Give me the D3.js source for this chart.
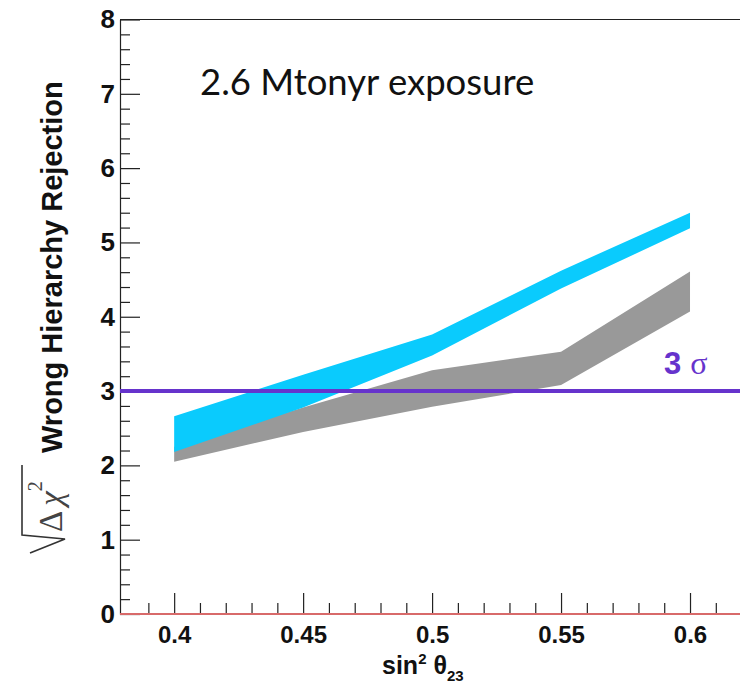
<!DOCTYPE html>
<html>
<head>
<meta charset="utf-8">
<script src="https://cdn.jsdelivr.net/npm/d3@7"></script>
<style>
  body { margin: 0; background: #fff; }
  svg { display: block; }
</style>
</head>
<body>
<svg id="chart" width="740" height="685"></svg>
<script>
// sin^2(theta_23) sample points and the sqrt(delta chi^2) band edges
const sin2Theta23 = [0.40, 0.45, 0.50, 0.55, 0.60];
const cyanLow  = [2.18, 2.78, 3.48, 4.38, 5.19];
const cyanHigh = [2.66, 3.22, 3.76, 4.62, 5.40];
const grayLow  = [2.05, 2.45, 2.79, 3.08, 4.07];
const grayHigh = [2.25, 2.78, 3.28, 3.53, 4.61];

const xMajorTicks = [0.40, 0.45, 0.50, 0.55, 0.60];
const xTickLabels = ["0.4", "0.45", "0.5", "0.55", "0.6"];
const xMinorTicks = [0.39, 0.41, 0.42, 0.43, 0.44, 0.46, 0.47, 0.48, 0.49, 0.51,
                     0.52, 0.53, 0.54, 0.56, 0.57, 0.58, 0.59, 0.61];
const yMajorTicks = [0, 1, 2, 3, 4, 5, 6, 7, 8];
const yMinorTicks = d3.range(1, 40).filter(k => k % 5 !== 0).map(k => k / 5);

const sigmaLevel = 3;
const titleText = "2.6 Mtonyr exposure";

const svg = d3.select("#chart");

const frameLeft = 120, frameRight = 740, frameBottom = 614, frameTop = 19.5;
const x = d3.scaleLinear().domain([0.379, 0.62]).range([frameLeft, 741.6]);
const y = d3.scaleLinear().domain([0, 8]).range([frameBottom, frameTop]);

// bands
function band(lo, hi) {
  return d3.area()
    .x((d, i) => x(sin2Theta23[i]))
    .y0((d, i) => y(lo[i]))
    .y1((d, i) => y(hi[i]))(sin2Theta23);
}
svg.append("path").attr("d", band(grayLow, grayHigh)).attr("fill", "#999999");
svg.append("path").attr("d", band(cyanLow, cyanHigh)).attr("fill", "#0acbfd");

// y axis: major and minor ticks pointing into the frame
const yAxisG = svg.append("g").attr("transform", `translate(${frameLeft},0)`);
yAxisG.call(d3.axisLeft(y).tickValues(yMajorTicks).tickSize(-20).tickSizeOuter(0)
  .tickPadding(5).tickFormat(d3.format("d")));
yAxisG.append("g").call(d3.axisLeft(y).tickValues(yMinorTicks).tickSize(-10)
  .tickSizeOuter(0).tickFormat(""))
  .select(".domain").remove();
yAxisG.selectAll("text")
  .attr("font-family", "Liberation Sans, Arial, sans-serif")
  .attr("font-weight", "bold").attr("font-size", 26).attr("fill", "#111");
yAxisG.selectAll("line, path").attr("stroke", "#222").attr("stroke-width", 1.2);

// x axis
const xAxisG = svg.append("g").attr("transform", `translate(0,${frameBottom})`);
xAxisG.call(d3.axisBottom(x).tickValues(xMajorTicks).tickSize(-21).tickSizeOuter(0)
  .tickPadding(12).tickFormat((d, i) => xTickLabels[i]));
xAxisG.append("g").call(d3.axisBottom(x).tickValues(xMinorTicks).tickSize(-11)
  .tickSizeOuter(0).tickFormat(""))
  .select(".domain").remove();
xAxisG.selectAll("text")
  .attr("font-family", "Liberation Sans, Arial, sans-serif")
  .attr("font-weight", "bold").attr("font-size", 24).attr("fill", "#111");
xAxisG.selectAll("line, path").attr("stroke", "#222").attr("stroke-width", 1.2);

// top frame line
svg.append("line").attr("x1", frameLeft).attr("x2", frameRight)
  .attr("y1", frameTop).attr("y2", frameTop)
  .attr("stroke", "#222").attr("stroke-width", 1.2);

// zero line along the bottom
svg.append("line").attr("x1", frameLeft).attr("x2", frameRight)
  .attr("y1", y(0)).attr("y2", y(0))
  .attr("stroke", "#d86a6a").attr("stroke-width", 2);

// 3 sigma line and label
svg.append("line").attr("x1", frameLeft).attr("x2", frameRight)
  .attr("y1", y(sigmaLevel)).attr("y2", y(sigmaLevel))
  .attr("stroke", "#6633cc").attr("stroke-width", 4);
const sig = svg.append("text").attr("x", 664).attr("y", 374).attr("fill", "#6633cc");
sig.append("tspan").attr("font-family", "Liberation Sans, Arial, sans-serif")
  .attr("font-weight", "bold").attr("font-size", 31).text(String(sigmaLevel));
sig.append("tspan").attr("dx", 9).attr("font-family", "Liberation Serif, serif")
  .attr("font-size", 32).text("σ");

// title
svg.append("text").attr("x", 200).attr("y", 95)
  .attr("font-family", "Lato, 'Open Sans', sans-serif").attr("font-size", 36.5)
  .attr("fill", "#111").text(titleText);

// x axis title: sin² θ₂₃
const xt = svg.append("text").attr("x", 382).attr("y", 674)
  .attr("font-family", "Liberation Sans, Arial, sans-serif").attr("font-weight", "bold")
  .attr("font-size", 25).attr("fill", "#111");
xt.append("tspan").text("sin");
xt.append("tspan").attr("font-size", 15).attr("dy", -10).text("2");
xt.append("tspan").attr("dx", 7).attr("dy", 10).text("θ");
xt.append("tspan").attr("font-size", 15).attr("dy", 7).text("23");

// y axis title: √Δχ² Wrong Hierarchy Rejection (rotated)
const yt = svg.append("g").attr("transform", "translate(63,553) rotate(-90)");
yt.append("path")
  .attr("d", "M0,-33 L14,2 L18,-41 L88,-41")
  .attr("fill", "none").attr("stroke", "#333").attr("stroke-width", 1.6);
const dchi = yt.append("text").attr("x", 21).attr("y", -1)
  .attr("font-family", "Liberation Serif, serif").attr("font-size", 33).attr("fill", "#444");
dchi.append("tspan").text("Δ");
dchi.append("tspan").attr("dx", 5).attr("font-style", "italic").text("χ");
dchi.append("tspan").attr("font-size", 20).attr("dy", -20).attr("dx", 0).text("2");
yt.append("text").attr("x", 100).attr("y", -1)
  .attr("font-family", "Liberation Sans, Arial, sans-serif").attr("font-weight", "bold")
  .attr("font-size", 29).attr("fill", "#111").text("Wrong Hierarchy Rejection");
</script>
</body>
</html>
